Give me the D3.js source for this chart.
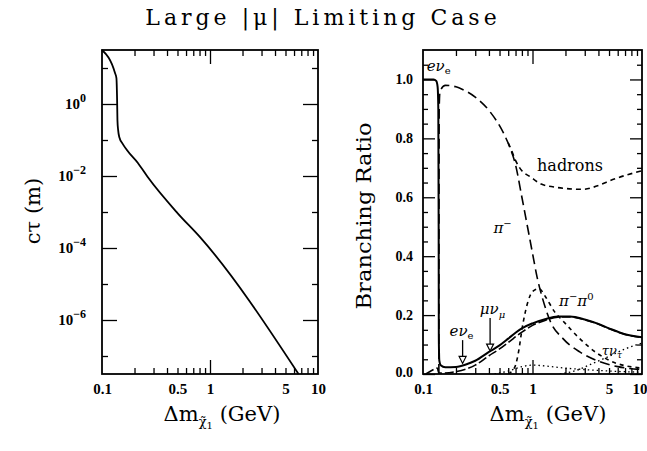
<!DOCTYPE html>
<html><head><meta charset="utf-8">
<script src="https://cdn.jsdelivr.net/npm/d3@7"></script>
<style>
body{margin:0;background:#fff;}
text{fill:#000;}
</style></head>
<body>
<svg id="c" width="647" height="451"></svg>
<script>
// ---- data ----
const titleText = "Large |μ| Limiting Case";
const xTickLabels = [0.1, 0.5, 1, 5, 10];
const xMinorTicks = [0.2,0.3,0.4,0.5,0.6,0.7,0.8,0.9,2,3,4,5,6,7,8,9];
const xMajorTicks = [1];
const ctauMajorExp = [0, -2, -4, -6];
const ctauMinorExp = [1, -1, -3, -5, -7];
const brMajor = [0, 0.2, 0.4, 0.6, 0.8, 1.0];
const brMinor = [0.05,0.1,0.15,0.25,0.3,0.35,0.45,0.5,0.55,0.65,0.7,0.75,0.85,0.9,0.95,1.05];

// left panel: c*tau (m), log10 values
const ctauX = [0.1, 0.132, 0.136, 0.138, 0.139, 0.141, 0.145, 0.155, 0.17, 0.215, 0.265, 0.5, 0.82, 6.6];
const ctauLog = [1.5, 0.86, 0.72, 0.1, -0.45, -0.72, -0.93, -1.1, -1.28, -1.64, -2.03, -3.03, -3.72, -7.5];

// right panel: branching ratios
const eNuX = [0.1, 0.125, 0.132, 0.136, 0.138, 0.139, 0.1395, 0.141, 0.145, 0.16, 0.2, 0.25, 0.3, 0.4, 0.5, 0.6, 0.7, 0.8, 1.0, 1.3, 1.7, 2.2, 3, 4, 5, 7, 10];
const eNuBR = [1.0, 1.0, 0.995, 0.975, 0.9, 0.5, 0.12, 0.045, 0.03, 0.023, 0.024, 0.033, 0.045, 0.075, 0.097, 0.12, 0.14, 0.155, 0.172, 0.186, 0.195, 0.195, 0.185, 0.17, 0.155, 0.135, 0.125];
const muNuX = [0.106, 0.12, 0.135, 0.1395, 0.15, 0.2, 0.3, 0.4, 0.5, 0.6, 0.8, 1.0, 1.3, 1.7, 2.2, 3, 4, 5, 7, 10];
const muNuBR = [0.0, 0.012, 0.02, 0.004, 0.003, 0.008, 0.03, 0.062, 0.085, 0.107, 0.142, 0.165, 0.182, 0.193, 0.194, 0.184, 0.169, 0.154, 0.134, 0.124];
const piX = [0.1396, 0.1405, 0.143, 0.16, 0.2, 0.23, 0.3, 0.41, 0.54, 0.62, 0.7, 0.8, 0.9, 1.0, 1.1, 1.25, 1.45, 1.9, 2.7, 3.9, 6, 10];
const piBR = [0.0, 0.9, 0.96, 0.98, 0.975, 0.966, 0.94, 0.89, 0.82, 0.77, 0.71, 0.6, 0.5, 0.41, 0.33, 0.25, 0.18, 0.12, 0.075, 0.045, 0.025, 0.015];
const hadX = [0.6, 0.65, 0.7, 0.8, 0.95, 1.2, 1.7, 2.9, 4, 5.4, 10];
const hadBR = [0.785, 0.755, 0.725, 0.69, 0.67, 0.645, 0.633, 0.627, 0.64, 0.66, 0.69];
const pipi0X = [0.6, 0.65, 0.7, 0.75, 0.8, 0.9, 1.0, 1.15, 1.3, 1.6, 1.9, 2.7, 3.9, 5.5, 10];
const pipi0BR = [0.0, 0.01, 0.03, 0.08, 0.15, 0.24, 0.28, 0.29, 0.265, 0.21, 0.18, 0.12, 0.07, 0.04, 0.02];
const tauX = [1.78, 2.5, 3.5, 5, 7, 10];
const tauBR = [0.0, 0.012, 0.035, 0.06, 0.085, 0.105];
const threePiX = [0.45, 0.6, 0.8, 1.0, 1.5, 2, 3, 5, 10];
const threePiBR = [0.0, 0.01, 0.025, 0.03, 0.025, 0.02, 0.015, 0.01, 0.006];

// ---- drawing ----
const svg = d3.select("#c");
const serif = "'DejaVu Serif', 'Liberation Serif', serif";
const numFont = "'Liberation Serif', 'DejaVu Serif', serif";

svg.append("text").attr("x", 323).attr("y", 25).attr("text-anchor", "middle")
  .attr("font-family", serif).attr("font-size", 22).attr("letter-spacing", 4)
  .text(titleText);

function panel(g, x, y, yMajor, yMinor, yMajorLen, yMinorLen) {
  const [x0, x1] = x.range(); const [y0, y1] = y.range();
  const tick = (axisFn, scale, vals, len, tr) => {
    g.append("g").attr("transform", tr)
      .call(axisFn(scale).tickValues(vals).tickSize(-len).tickFormat(""))
      .call(s => s.select(".domain").remove())
      .selectAll("line").attr("stroke", "#000").attr("stroke-width", 1.3);
  };
  tick(d3.axisBottom, x, xMinorTicks, 6, `translate(0,${y0})`);
  tick(d3.axisBottom, x, xMajorTicks, 14, `translate(0,${y0})`);
  tick(d3.axisTop, x, xMinorTicks, 6, `translate(0,${y1})`);
  tick(d3.axisTop, x, xMajorTicks, 14, `translate(0,${y1})`);
  tick(d3.axisLeft, y, yMinor, yMinorLen, `translate(${x0},0)`);
  tick(d3.axisLeft, y, yMajor, yMajorLen, `translate(${x0},0)`);
  tick(d3.axisRight, y, yMinor, yMinorLen, `translate(${x1},0)`);
  tick(d3.axisRight, y, yMajor, yMajorLen, `translate(${x1},0)`);
  g.append("rect").attr("x", x0).attr("y", y1).attr("width", x1 - x0).attr("height", y0 - y1)
    .attr("fill", "none").attr("stroke", "#000").attr("stroke-width", 1.8);
  // x labels
  const xl = g.append("g").attr("transform", `translate(0,${y0 + 6})`)
    .call(d3.axisBottom(x).tickValues(xTickLabels).tickSize(0).tickFormat(d => String(d)));
  xl.select(".domain").remove();
  xl.selectAll("text").attr("font-family", numFont).attr("font-weight", "bold").attr("font-size", 15).attr("fill", "#000")
    .attr("text-anchor", d => (d === 10 && x0 > 400) ? "end" : "middle")
    .attr("dx", d => (d === 10 && x0 > 400) ? 5 : 0);
}

// Left panel
const xL = d3.scaleLog().domain([0.1, 10]).range([102, 318]);
const yL = d3.scaleLog().domain([Math.pow(10, -7.5), Math.pow(10, 1.5)]).range([374, 50]);
const gL = svg.append("g");
panel(gL, xL, yL, ctauMajorExp.map(e => Math.pow(10, e)), ctauMinorExp.map(e => Math.pow(10, e)), 15, 6);
ctauMajorExp.forEach(e => {
  const t = gL.append("text").attr("x", 86).attr("y", yL(Math.pow(10, e)) + 5)
    .attr("text-anchor", "end").attr("font-family", numFont).attr("font-weight", "bold").attr("font-size", 15);
  t.append("tspan").text("10");
  t.append("tspan").attr("dy", -7).attr("font-size", 12).text(e === 0 ? "0" : "−" + (-e));
});
const ctauPts = ctauX.map((v, i) => [v, Math.pow(10, ctauLog[i])]);
gL.append("path").datum(ctauPts)
  .attr("d", d3.line().x(d => xL(d[0])).y(d => yL(d[1])).curve(d3.curveMonotoneX))
  .attr("fill", "none").attr("stroke", "#000").attr("stroke-width", 1.8);
// axis labels
gL.append("text").attr("transform", "translate(40,211) rotate(-90)")
  .attr("text-anchor", "middle").attr("font-family", serif).attr("font-size", 21)
  .text("cτ (m)");

function xLabel(g, cx) {
  const t = g.append("text").attr("x", cx).attr("y", 421).attr("text-anchor", "middle")
    .attr("font-family", serif).attr("font-size", 21);
  t.append("tspan").text("Δm");
  t.append("tspan").attr("dy", 5).attr("font-size", 13).text("χ̃");
  t.append("tspan").attr("dy", 3).attr("font-size", 10).text("1");
  t.append("tspan").attr("dy", -8).text(" (GeV)");
}
xLabel(gL, 222);

// Right panel
const xR = d3.scaleLog().domain([0.1, 10]).range([423, 642]);
const yR = d3.scaleLinear().domain([0, 1.1]).range([374, 50]);
const gR = svg.append("g");
gR.append("defs").append("clipPath").attr("id", "clipR").append("rect")
  .attr("x", 423).attr("y", 50).attr("width", 219).attr("height", 324);
panel(gR, xR, yR, brMajor, brMinor, 12, 5);
brMajor.forEach(v => {
  gR.append("text").attr("x", 413).attr("y", yR(v) + (v === 0 ? 3 : 5))
    .attr("text-anchor", "end").attr("font-family", numFont).attr("font-weight", "bold").attr("font-size", 14)
    .text(v.toFixed(1));
});
gR.append("text").attr("transform", "translate(371,216) rotate(-90)")
  .attr("text-anchor", "middle").attr("font-family", serif).attr("font-size", 21)
  .attr("textLength", 187).attr("lengthAdjust", "spacingAndGlyphs").text("Branching Ratio");
xLabel(gR, 548);

const lineR = d3.line().x(d => xR(d[0])).y(d => yR(d[1])).curve(d3.curveMonotoneX);
const curves = gR.append("g").attr("clip-path", "url(#clipR)");
function drawSeries(xs, ys, dash, w) {
  curves.append("path").datum(xs.map((v, i) => [v, ys[i]]))
    .attr("d", lineR).attr("fill", "none").attr("stroke", "#000")
    .attr("stroke-width", w).attr("stroke-dasharray", dash);
}
drawSeries(threePiX, threePiBR, "1.5,3", 1.3);
drawSeries(tauX, tauBR, "1.5,3", 1.4);
drawSeries(pipi0X, pipi0BR, "4,4", 1.6);
drawSeries(hadX, hadBR, "5,4", 1.6);
drawSeries(piX, piBR, "10,5", 1.6);
drawSeries(muNuX, muNuBR, "9,3", 1.6);
drawSeries(eNuX, eNuBR, null, 2);

// labels
function lbl(x, y, parts, fsBase) {
  const t = gR.append("text").attr("x", xR(x)).attr("y", yR(y)).attr("font-family", serif).attr("font-size", fsBase || 15);
  parts.forEach(p => {
    const s = t.append("tspan").text(p.t);
    if (p.dy) s.attr("dy", p.dy);
    if (p.fs) s.attr("font-size", p.fs);
    if (p.it) s.attr("font-style", "italic");
  });
}
lbl(0.108, 1.03, [{t: "eν", it: true}, {t: "e", dy: 3, fs: 10}]);
lbl(1.1, 0.69, [{t: "hadrons"}], 16);
lbl(0.44, 0.48, [{t: "π", it: true}, {t: "−", dy: -6, fs: 10}]);
lbl(1.75, 0.23, [{t: "π", it: true}, {t: "−", dy: -6, fs: 10}, {t: "π", dy: 6, it: true}, {t: "0", dy: -6, fs: 10}]);
lbl(0.33, 0.205, [{t: "μν", it: true}, {t: "μ", dy: 4, fs: 10, it: true}]);
lbl(0.175, 0.13, [{t: "eν", it: true}, {t: "e", dy: 3, fs: 10}]);
lbl(4.3, 0.065, [{t: "τν", it: true, fs: 13}, {t: "τ", dy: 3, fs: 9, it: true}]);

// arrows
function arrow(x, yTop, yTip) {
  const px = xR(x), y1 = yR(yTop), y2 = yR(yTip);
  gR.append("line").attr("x1", px).attr("x2", px).attr("y1", y1).attr("y2", y2 - 6)
    .attr("stroke", "#000").attr("stroke-width", 1.3);
  gR.append("path").attr("d", `M${px - 3.5},${y2 - 7} L${px + 3.5},${y2 - 7} L${px},${y2} Z`)
    .attr("fill", "#fff").attr("stroke", "#000").attr("stroke-width", 1.2);
}
arrow(0.23, 0.115, 0.036);
arrow(0.41, 0.19, 0.078);
</script>
</body></html>
